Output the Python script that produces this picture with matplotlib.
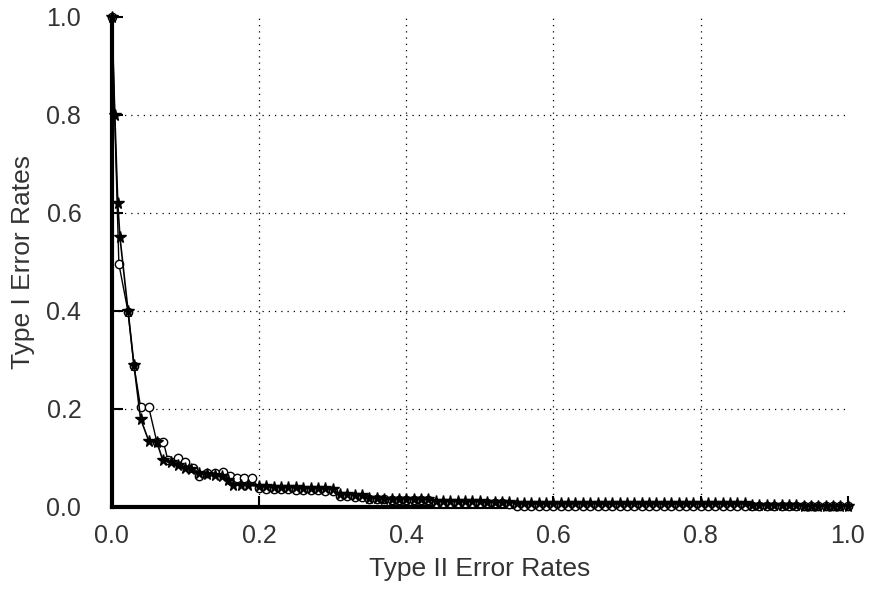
import matplotlib
matplotlib.use("Agg")
import matplotlib.pyplot as plt

# series A: open circles
a_x = [0.0, 0.0095, 0.022, 0.030, 0.039, 0.050, 0.061, 0.070, 0.076, 0.090,
       0.100, 0.110, 0.118, 0.129, 0.140, 0.151, 0.160, 0.170, 0.179, 0.190]
a_y = [1.0, 0.496, 0.398, 0.288, 0.204, 0.204, 0.133, 0.133, 0.096, 0.100,
       0.092, 0.080, 0.063, 0.069, 0.069, 0.071, 0.063, 0.059, 0.059, 0.059]

# series B: filled stars
b_x = [0.0, 0.004, 0.008, 0.011, 0.022, 0.030, 0.039, 0.050, 0.061, 0.069, 0.080,
       0.090, 0.100, 0.108, 0.118, 0.129, 0.140, 0.150, 0.158, 0.165, 0.175, 0.185]
b_y = [1.0, 0.80, 0.62, 0.55, 0.40, 0.29, 0.18, 0.135, 0.133, 0.096, 0.092,
       0.085, 0.080, 0.077, 0.070, 0.068, 0.066, 0.062, 0.055, 0.045, 0.045, 0.044]

# tail, shared x positions
tail_x = [0.20, 0.21, 0.22, 0.23, 0.24, 0.25, 0.26, 0.27, 0.28, 0.29, 0.30,
          0.31, 0.32, 0.33, 0.34, 0.35, 0.36, 0.37, 0.38, 0.39, 0.40,
          0.41, 0.42, 0.43, 0.44, 0.45, 0.46, 0.47, 0.48, 0.49, 0.50,
          0.51, 0.52, 0.53, 0.54, 0.55, 0.56, 0.57, 0.58, 0.59, 0.60,
          0.61, 0.62, 0.63, 0.64, 0.65, 0.66, 0.67, 0.68, 0.69, 0.70,
          0.71, 0.72, 0.73, 0.74, 0.75, 0.76, 0.77, 0.78, 0.79, 0.80,
          0.81, 0.82, 0.83, 0.84, 0.85, 0.86, 0.87, 0.88, 0.89, 0.90,
          0.91, 0.92, 0.93, 0.94, 0.95, 0.96, 0.97, 0.98, 0.99, 1.00]
a_tail = [0.038, 0.037, 0.037, 0.036, 0.036, 0.035, 0.035, 0.034, 0.034, 0.033, 0.032,
          0.022, 0.022, 0.021, 0.021, 0.015, 0.015, 0.015, 0.014, 0.014, 0.014,
          0.013, 0.013, 0.013, 0.008, 0.008, 0.008, 0.008, 0.008, 0.007, 0.007,
          0.007, 0.007, 0.007, 0.006, 0.002, 0.002, 0.002, 0.002, 0.002, 0.002,
          0.002, 0.002, 0.002, 0.002, 0.002, 0.002, 0.002, 0.002, 0.002, 0.002,
          0.002, 0.002, 0.002, 0.002, 0.002, 0.002, 0.002, 0.002, 0.002, 0.002,
          0.002, 0.002, 0.002, 0.002, 0.002, 0.002, 0.002, 0.002, 0.002, 0.002,
          0.002, 0.002, 0.002, 0.002, 0.002, 0.002, 0.002, 0.002, 0.002, 0.002]
b_tail = [0.042, 0.042, 0.041, 0.040, 0.040, 0.040, 0.039, 0.039, 0.038, 0.038, 0.036,
          0.026, 0.026, 0.025, 0.025, 0.018, 0.018, 0.017, 0.017, 0.017, 0.016,
          0.016, 0.016, 0.016, 0.012, 0.012, 0.012, 0.011, 0.011, 0.011, 0.011,
          0.010, 0.010, 0.010, 0.010, 0.008, 0.008, 0.008, 0.008, 0.008, 0.008,
          0.008, 0.008, 0.008, 0.008, 0.008, 0.007, 0.007, 0.007, 0.007, 0.007,
          0.007, 0.007, 0.007, 0.007, 0.007, 0.007, 0.007, 0.007, 0.007, 0.007,
          0.007, 0.007, 0.007, 0.007, 0.007, 0.007, 0.003, 0.003, 0.003, 0.003,
          0.003, 0.003, 0.003, 0.002, 0.002, 0.002, 0.002, 0.002, 0.002, 0.002]

ticks = [0.0, 0.2, 0.4, 0.6, 0.8, 1.0]
tick_labels = ["0.0", "0.2", "0.4", "0.6", "0.8", "1.0"]

plt.rcParams['font.family'] = ['Liberation Sans', 'DejaVu Sans']

fig = plt.figure(figsize=(8.74, 6.07), dpi=100)
ax = fig.add_axes([0.128, 0.165, 0.842, 0.807])

ax.plot(a_x + tail_x, a_y + a_tail, color="black", lw=1.0, marker="o",
        ms=6, mfc="white", mec="black", mew=1.0, clip_on=False, zorder=3)
ax.plot(b_x + tail_x, b_y + b_tail, color="black", lw=1.2, marker="*",
        ms=8.5, mfc="black", mec="black", clip_on=False, zorder=4)

ax.set_xlim(0, 1.0)
ax.set_ylim(0, 1.0)
ax.set_xticks(ticks)
ax.set_xticklabels(tick_labels)
ax.set_yticks(ticks)
ax.set_yticklabels(tick_labels)

for v in ticks[1:-1]:
    ax.axvline(v, color="black", lw=0.9, ls=(0, (1, 4)), zorder=1)
    ax.axhline(v, color="black", lw=0.9, ls=(0, (1, 4)), zorder=1)

for s in ["top", "right"]:
    ax.spines[s].set_visible(False)
ax.spines["left"].set_linewidth(3)
ax.spines["bottom"].set_linewidth(3)

ax.tick_params(axis="both", direction="in", length=8, width=1.5,
               labelsize=18, colors="black", labelcolor="#333333")
ax.tick_params(axis="y", pad=22)
ax.tick_params(axis="x", pad=12)

ax.set_xlabel("Type II Error Rates", fontsize=19, color="#333333", labelpad=7)
ax.set_ylabel("Type I Error Rates", fontsize=19, color="#333333", labelpad=8)

fig.savefig("out.png", dpi=100, facecolor="white")
